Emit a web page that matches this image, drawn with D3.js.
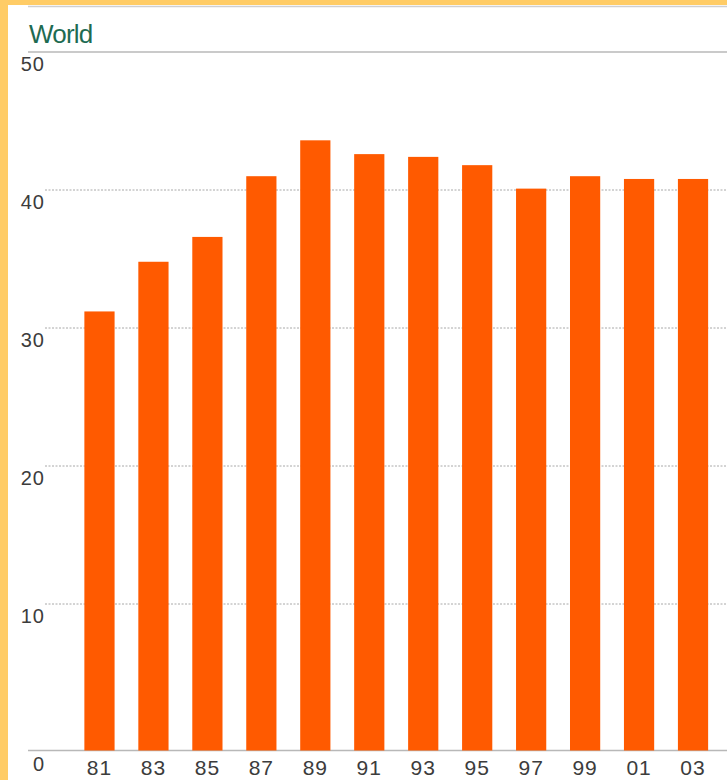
<!DOCTYPE html>
<html>
<head>
<meta charset="utf-8">
<script src="https://cdn.jsdelivr.net/npm/d3@7"></script>
<style>
  html, body { margin: 0; padding: 0; background: #ffcc66; }
  svg { display: block; }
</style>
</head>
<body>
<div id="chart"></div>
<script>
// Series: share by year (two-digit labels), World
const years = ["81", "83", "85", "87", "89", "91", "93", "95", "97", "99", "01", "03"];
const values = [31.2, 34.8, 36.6, 41.0, 43.6, 42.6, 42.4, 41.8, 40.1, 41.0, 40.8, 40.8];
const yTicks = [0, 10, 20, 30, 40, 50];
const title = "World";

const W = 727, H = 780;
const svg = d3.select("#chart").append("svg")
  .attr("width", W).attr("height", H);

// yellow frame with white panel
svg.append("rect").attr("width", W).attr("height", H).attr("fill", "#ffcc66");
svg.append("rect").attr("x", 8).attr("y", 5).attr("width", W - 8).attr("height", H - 5)
  .attr("fill", "#ffffff");
svg.append("line").attr("x1", 28).attr("x2", W).attr("y1", 6.5).attr("y2", 6.5)
  .attr("stroke", "#cfcfcf").attr("stroke-width", 1.5);

const y = d3.scaleLinear().domain([0, 50]).range([742, 52]);
const baseY = y(0) + 8.5; // axis line sits a little below the zero level
const x = d3.scaleBand().domain(years).range([72.5, 720]).paddingInner(0.44).paddingOuter(0.22);

// title
svg.append("text").attr("x", 29).attr("y", 43)
  .attr("font-family", "Liberation Sans, Arial, sans-serif")
  .attr("font-size", 26).attr("letter-spacing", -0.8)
  .attr("fill", "#1e6b52").text(title);

// gridlines
const grid = svg.append("g");
yTicks.filter(t => t > 0).forEach(t => {
  const top = t === d3.max(yTicks);
  grid.append("line")
    .attr("x1", top ? 28 : 45).attr("x2", W)
    .attr("y1", y(t)).attr("y2", y(t))
    .attr("stroke", top ? "#b8b8b8" : "#a8a8a8")
    .attr("stroke-width", top ? 1.5 : 1)
    .attr("stroke-dasharray", top ? null : "2,1.5");
});
// bottom axis line
svg.append("line").attr("x1", 28).attr("x2", W).attr("y1", baseY).attr("y2", baseY)
  .attr("stroke", "#b8b8b8").attr("stroke-width", 1.5);

// y labels
svg.append("g").selectAll("text").data(yTicks).join("text")
  .attr("x", 45)
  .attr("y", t => (t === 0 ? baseY + 20 : y(t) + 18.5))
  .attr("text-anchor", "end")
  .attr("font-family", "Liberation Sans, Arial, sans-serif")
  .attr("font-size", 20).attr("letter-spacing", 1)
  .attr("fill", "#3c3c3c")
  .text(t => t);

// bars
svg.append("g").selectAll("rect").data(values).join("rect")
  .attr("x", (d, i) => x(years[i]))
  .attr("width", x.bandwidth())
  .attr("y", d => y(d))
  .attr("height", d => baseY - y(d))
  .attr("fill", "#ff5a00");

// x labels
svg.append("g").selectAll("text").data(years).join("text")
  .attr("x", d => x(d) + x.bandwidth() / 2)
  .attr("y", 775)
  .attr("text-anchor", "middle")
  .attr("font-family", "Liberation Sans, Arial, sans-serif")
  .attr("font-size", 21).attr("letter-spacing", 1)
  .attr("fill", "#3c3c3c")
  .text(d => d);
</script>
</body>
</html>
